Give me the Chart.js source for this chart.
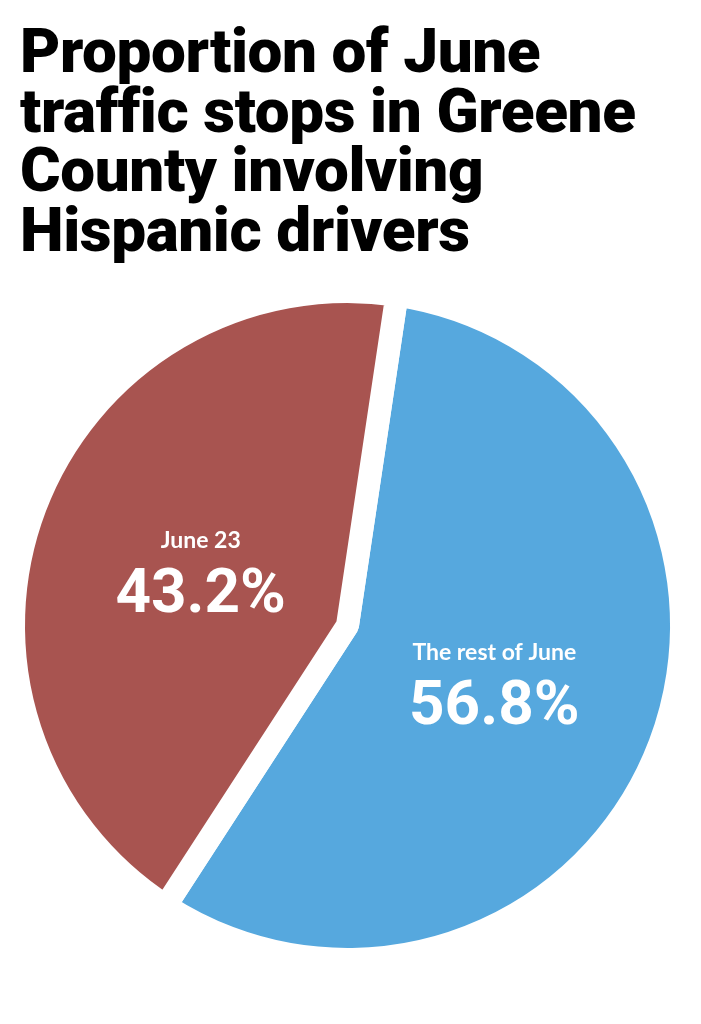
<!DOCTYPE html>
<html>
<head>
<meta charset="utf-8">
<script src="https://cdn.jsdelivr.net/npm/chart.js@4.4.1/dist/chart.umd.min.js"></script>
<style>
	html, body { margin: 0; padding: 0; background: #fff; }
	body { width: 701px; height: 1024px; position: relative; overflow: hidden; }
	#title {
		position: absolute;
		left: 20px;
		top: 21px;
		margin: 0;
		font-family: "Roboto", "Liberation Sans", sans-serif;
		font-weight: 900;
		font-size: 62px;
		line-height: 59.5px;
		color: #000;
		letter-spacing: -0.4px;
	}
	#chart-box { position: absolute; left: 0; top: 0; width: 701px; height: 1024px; }
</style>
</head>
<body>
<div id="chart-box"><canvas id="pie-chartcanvas"></canvas></div>
<h1 id="title">Proportion of June<br>traffic stops in Greene<br>County involving<br>Hispanic drivers</h1>

<script>
	"use strict";

	// chart data
	var categories = ["The rest of June", "June 23"];
	var shares = [56.8, 43.2];
	var sliceColors = ["#56a8de", "#a85450"];

	/*
	 *	labels drawn inside each slice
	 */
	var sliceLabels = {
		id : "sliceLabels",
		afterDatasetsDraw : function(chart) {
			var ctx = chart.ctx;
			var meta = chart.getDatasetMeta(0);
			ctx.save();
			ctx.fillStyle = "#fff";
			ctx.textAlign = "center";
			ctx.textBaseline = "middle";
			meta.data.forEach(function(arc, i) {
				var p = arc.getProps(["x", "y", "startAngle", "endAngle", "outerRadius"], true);
				var mid = (p.startAngle + p.endAngle) / 2;
				var r = p.outerRadius * 0.47;
				var cx = p.x + Math.cos(mid) * r;
				var cy = p.y + Math.sin(mid) * r;
				ctx.font = "700 23px Lato, 'Open Sans', sans-serif";
				ctx.fillText(categories[i], cx, cy - 29);
				ctx.font = "700 62px Roboto, 'Liberation Sans', sans-serif";
				ctx.fillText(shares[i].toFixed(1) + "%", cx, cy + 27);
			});
			ctx.restore();
		}
	};

	var pieCtx = document.getElementById("pie-chartcanvas");

	var pieData = {
		labels : categories,
		datasets : [
			{
				data : shares,
				backgroundColor : sliceColors,
				borderColor : "#fff",
				borderWidth : 23,
				hoverOffset : 0,
				offset : 0
			}
		]
	};

	var pieOptions = {
		responsive : true,
		maintainAspectRatio : false,
		animation : false,
		rotation : 8.5,
		layout : {
			padding : { left : 2, right : 8, top : 280, bottom : 53 }
		},
		plugins : {
			legend : { display : false },
			tooltip : { enabled : false },
			title : { display : false }
		}
	};

	var pieChart = new Chart(pieCtx, {
		type : "pie",
		data : pieData,
		options : pieOptions,
		plugins : [sliceLabels]
	});
</script>
</body>
</html>
